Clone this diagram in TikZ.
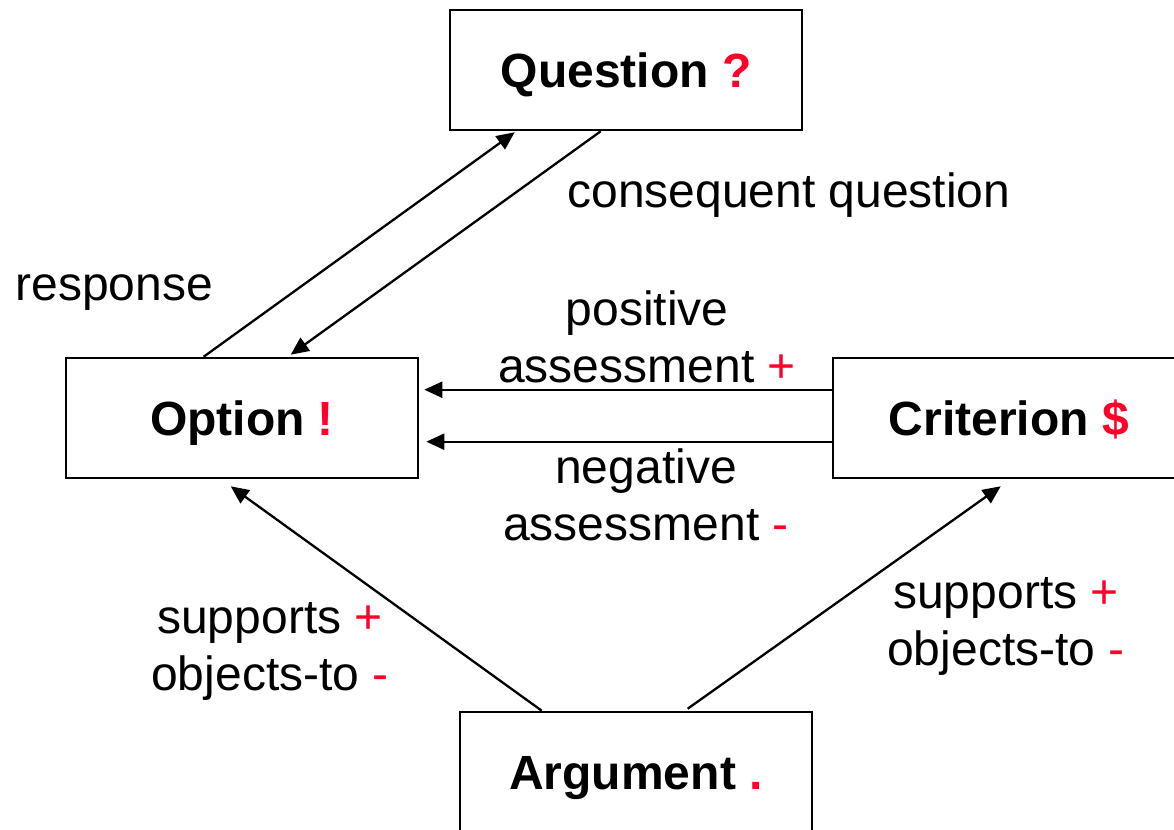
\documentclass[tikz,border=0pt]{standalone}
\usepackage{fontspec}
\setmainfont{Liberation Sans}
\usetikzlibrary{arrows.meta,calc}
\definecolor{mark}{RGB}{255,0,40}
\newcommand{\sym}[1]{\textcolor{mark}{#1}}
\begin{document}
\begin{tikzpicture}[x=0.5pt,y=-0.5pt,
  every node/.style={font=\fontsize{24}{28.5}\selectfont},
  ibox/.style={draw,line width=1.3pt,minimum width=176pt,minimum height=60pt,
    inner sep=0pt,text height=17.2pt,text depth=0pt,font=\fontsize{24}{28.5}\selectfont\bfseries},
  link/.style={line width=1.15pt,-{Triangle[length=9pt,width=8pt]}},
  lbl/.style={align=center,anchor=base,inner sep=0pt},
  tag/.style={anchor=base west,inner sep=0pt}]
\useasboundingbox (0,0) rectangle (1174,830);

% issue boxes
\node[ibox] (question)  at (626,70)   {Question \sym{?}};
\node[ibox] (option)    at (242,418)  {Option \sym{!}};
\node[ibox] (criterion) at (1009,418) {Criterion \sym{\$}};
\node[ibox] (argument)  at (636,772)  {Argument \sym{.}};

% question <-> option
\draw[link] ($(option.north west)+(139,0)$) -- ($(question.south west)+(66,1)$);
\draw[link] ($(question.south west)+(152,0)$) -- ($(option.north west)+(226,-2)$);

% assessments
\draw[link] ($(criterion.north west)+(0,33)$) -- ($(option.north east)+(5,33)$);
\draw[link] ($(criterion.north west)+(0,85)$) -- ($(option.north east)+(7,85)$);

% arguments
\draw[link] ($(argument.north west)+(83,0)$) -- ($(option.south west)+(166,7)$);
\draw[link] ($(argument.north west)+(229,-2)$) -- ($(criterion.south west)+(169,7)$);

% labels (multi-line labels are placed by the baseline of their last line)
\node[tag] (lresp) at (15,300) {response};
\node[tag] (lcons) at (567,207) {consequent question};
\node[lbl] (lpos) at (647,382) {positive\\assessment \sym{+}};
\node[lbl] (lneg) at (646,540) {negative\\assessment \sym{-}};
\node[lbl] (lopt) at (270,690) {supports \sym{+}\\objects-to \sym{-}};
\node[lbl] (lcrit) at (1006,665) {supports \sym{+}\\objects-to \sym{-}};
\end{tikzpicture}
\end{document}
